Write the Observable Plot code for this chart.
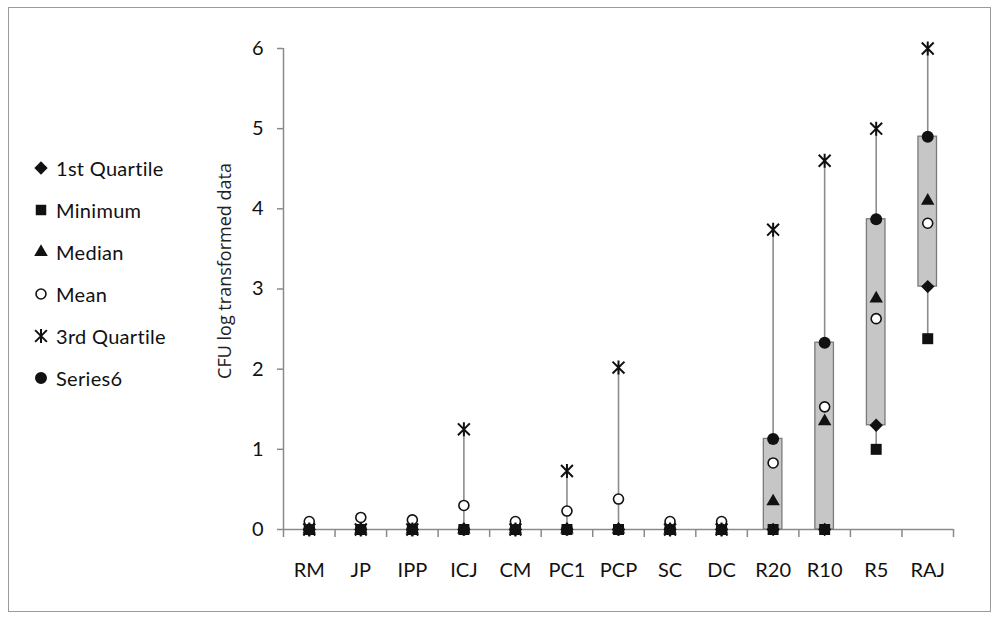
<!DOCTYPE html>
<html><head><meta charset="utf-8">
<script src="https://cdn.jsdelivr.net/npm/d3@7"></script>
<script src="https://cdn.jsdelivr.net/npm/@observablehq/plot@0.6"></script>
<style>
body{margin:0;background:#fff;}
#wrap{position:relative;width:997px;height:618px;overflow:hidden;}
#frame{position:absolute;left:8px;top:7px;width:983px;height:605px;border:1.5px solid #9a9a9a;box-sizing:border-box;}
#chart{position:absolute;left:0;top:0;}
#legend{position:absolute;left:30px;top:147px;font-family:Lato,sans-serif;font-size:20px;letter-spacing:0.3px;color:#111;}
.row{height:42px;display:flex;align-items:center;}
.row svg{width:22px;height:22px;margin-right:4px;overflow:visible;}
</style></head><body>
<div id="wrap"><div id="frame"></div><div id="chart"></div><div id="legend"></div></div>
<script>
const categories = ["RM","JP","IPP","ICJ","CM","PC1","PCP","SC","DC","R20","R10","R5","RAJ"];
const firstQuartile = [0,0,0,0,0,0,0,0,0,0,0,1.3,3.03];
const minimum = [0,0,0,0,0,0,0,0,0,0,0,1.0,2.38];
const median = [0,0,0,0,0,0,0,0,0,0.35,1.35,2.88,4.1];
const mean = [0.1,0.15,0.12,0.3,0.1,0.23,0.38,0.1,0.1,0.83,1.53,2.63,3.82];
const thirdQuartile = [0,0,0,1.25,0,0.73,2.02,0,0,3.74,4.6,5.0,6.0];
const series6 = [0,0,0,0,0,0,0,0,0,1.13,2.33,3.87,4.9];
const yTicks = [0,1,2,3,4,5,6];
const yTitle = "CFU log transformed data";
const legendNames = ["1st Quartile","Minimum","Median","Mean","3rd Quartile","Series6"];

const rows = categories.map((c,i)=>({cat:c, pos:i+0.5, q1:firstQuartile[i], min:minimum[i], med:median[i], mean:mean[i], q3:thirdQuartile[i], s6:series6[i]}));
const boundaries = d3.range(categories.length+1);
const centers = rows.map(d=>d.pos);

const star = {draw(ctx, size){
  const r = Math.sqrt(size/Math.PI);
  const d = r*0.85;
  ctx.moveTo(-d,-d); ctx.lineTo(d,d);
  ctx.moveTo(d,-d); ctx.lineTo(-d,d);
  ctx.moveTo(0,-r); ctx.lineTo(0,r);
}};

const axisColor = "#8a8a8a";
const font = "Lato, sans-serif";

const plot = Plot.plot({
  width:997, height:618,
  marginLeft:283, marginRight:44, marginTop:48, marginBottom:89,
  x:{type:"linear", domain:[0,categories.length], axis:null},
  y:{domain:[0,6], axis:null},
  style:{fontFamily:font, background:"transparent", color:"#111"},
  marks:[
    Plot.ruleX([0],{y1:0,y2:6,stroke:axisColor,strokeWidth:1.5}),
    Plot.ruleY([0],{x1:0,x2:categories.length,stroke:axisColor,strokeWidth:1.5}),
    Plot.axisX(boundaries,{tickSize:8,tickFormat:()=>"",label:null,stroke:axisColor,strokeWidth:1.5}),
    Plot.axisX(centers,{tickSize:0,tickPadding:33,fontSize:20,label:null,tickFormat:d=>categories[Math.floor(d)]}),
    Plot.axisY(yTicks,{tickSize:6,tickPadding:14,fontSize:20,label:null,tickFormat:d3.format("d"),stroke:axisColor,strokeWidth:1.5}),
    Plot.text([yTitle],{frameAnchor:"left",textAnchor:"middle",rotate:-90,dx:-58,dy:-18,fontSize:18,fontFamily:"'Open Sans', sans-serif",fill:"#222"}),
    Plot.ruleX(rows,{x:"pos",y1:"min",y2:"q3",stroke:"#8c8c8c",strokeWidth:1.6}),
    Plot.rect(rows.filter(d=>d.s6>d.q1),{x1:d=>d.pos-0.18,x2:d=>d.pos+0.18,y1:"q1",y2:"s6",fill:"#c6c6c6",stroke:"#7a7a7a",strokeWidth:1.3}),
    Plot.dot(rows,{x:"pos",y:"q1",symbol:"diamond2",r:6,fill:"#111",stroke:"none"}),
    Plot.dot(rows,{x:"pos",y:"min",symbol:"square",r:6.2,fill:"#111",stroke:"none"}),
    Plot.dot(rows,{x:"pos",y:"med",symbol:"triangle",r:5,fill:"#111",stroke:"none"}),
    Plot.dot(rows,{x:"pos",y:"mean",symbol:"circle",r:5,fill:"white",stroke:"#111",strokeWidth:1.6}),
    Plot.dot(rows,{x:"pos",y:"q3",symbol:star,r:7,fill:"none",stroke:"#111",strokeWidth:2}),
    Plot.dot(rows,{x:"pos",y:"s6",symbol:"circle",r:6,fill:"#111",stroke:"none"})
  ]
});
document.getElementById("chart").appendChild(plot);

// legend
const legendSymbols = [
  {sym:d3.symbolDiamond2,size:113,fill:"#111",stroke:"none"},
  {sym:d3.symbolSquare,size:110,fill:"#111",stroke:"none"},
  {sym:d3.symbolTriangle,size:80,fill:"#111",stroke:"none"},
  {sym:d3.symbolCircle,size:78,fill:"white",stroke:"#111"},
  {sym:star,size:150,fill:"none",stroke:"#111"},
  {sym:d3.symbolCircle,size:113,fill:"#111",stroke:"none"}
];
const leg = d3.select("#legend");
legendNames.forEach((name,i)=>{
  const r = leg.append("div").attr("class","row");
  const s = r.append("svg").attr("viewBox","-11 -11 22 22");
  const L = legendSymbols[i];
  s.append("path").attr("d",d3.symbol(L.sym,L.size)()).attr("fill",L.fill).attr("stroke",L.stroke).attr("stroke-width",i===4?2:1.6);
  r.append("span").text(name);
});
</script>
</body></html>
